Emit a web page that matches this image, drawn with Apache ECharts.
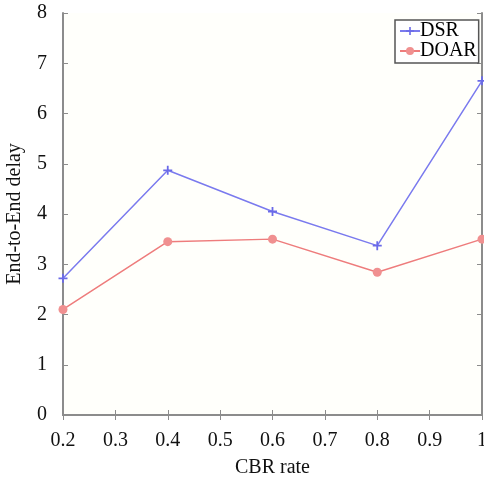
<!DOCTYPE html>
<html><head><meta charset="utf-8">
<script src="https://cdn.jsdelivr.net/npm/echarts@6/dist/echarts.min.js"></script>
<style>html,body{margin:0;padding:0;background:#fff}#c{width:484px;height:483px}</style>
</head><body><div id="c"></div>
<script>
const cbrRates = [0.2, 0.4, 0.6, 0.8, 1.0];
const dsrDelay = [2.72, 4.87, 4.05, 3.37, 6.65];
const doarDelay = [2.1, 3.45, 3.5, 2.84, 3.5];
const seriesNames = ['DSR', 'DOAR'];
const xTitle = 'CBR rate';
const yTitle = 'End-to-End delay';

const font = '"Liberation Serif", "Times New Roman", serif';
const axisCol = '#8c8c8c';
const plusPath = 'path://M4,0 L6,0 L6,4 L10,4 L10,6 L6,6 L6,10 L4,10 L4,6 L0,6 L0,4 L4,4 Z';
const chart = echarts.init(document.getElementById('c'), null, {renderer: 'canvas'});
const lbl = {fontFamily: font, fontSize: 20, color: '#111'};
chart.setOption({
  backgroundColor: '#fff',
  animation: false,
  grid: {left: 63, right: 2, top: 13, bottom: 68, containLabel: false, outerBoundsMode: 'none', show: true, backgroundColor: '#fffffb', borderWidth: 0},
  legend: {
    left: 395, top: 20, orient: 'vertical', itemGap: 0, itemWidth: 20, itemHeight: 10,
    padding: [1, 2, 2, 4],
    borderColor: '#555', borderWidth: 1.5, backgroundColor: '#fff',
    textStyle: {fontFamily: font, fontSize: 20, color: '#000', padding: [0, 0, 0, -5]},
    data: seriesNames
  },
  xAxis: [{
    type: 'value', min: 0.2, max: 1, interval: 0.1,
    name: xTitle, nameLocation: 'middle', nameGap: 43,
    nameTextStyle: {fontFamily: font, fontSize: 20, color: '#111'},
    axisLine: {show: true, onZero: false, lineStyle: {color: axisCol, width: 2}},
    axisTick: {show: true, inside: true, length: 5, lineStyle: {color: axisCol}},
    axisLabel: Object.assign({margin: 16, formatter: v => String(+v.toFixed(1))}, lbl),
    splitLine: {show: false}
  }, {
    type: 'value', position: 'top', min: 0.2, max: 1, interval: 0.1,
    axisLine: {show: true, lineStyle: {color: axisCol, width: 2}},
    axisTick: {show: true, inside: true, length: 5, lineStyle: {color: axisCol}},
    axisLabel: {show: false}, splitLine: {show: false}
  }],
  yAxis: [{
    type: 'value', min: 0, max: 8, interval: 1,
    name: yTitle, nameLocation: 'middle', nameGap: 38, nameRotate: 90,
    nameTextStyle: {fontFamily: font, fontSize: 20, color: '#111'},
    axisLine: {show: true, onZero: false, lineStyle: {color: axisCol, width: 2}},
    axisTick: {show: true, inside: true, length: 5, lineStyle: {color: axisCol}},
    axisLabel: Object.assign({margin: 16, padding: [7, 0, 0, 0]}, lbl),
    splitLine: {show: false}
  }, {
    type: 'value', position: 'right', min: 0, max: 8, interval: 1,
    axisLine: {show: true, lineStyle: {color: axisCol, width: 2}},
    axisTick: {show: true, inside: true, length: 5, lineStyle: {color: axisCol}},
    axisLabel: {show: false}, splitLine: {show: false}
  }],
  series: [{
    name: seriesNames[0], type: 'line',
    data: cbrRates.map((x, i) => [x, dsrDelay[i]]),
    symbol: plusPath, symbolSize: 9, showAllSymbol: true,
    lineStyle: {color: '#7a7aee', width: 1.5},
    itemStyle: {color: '#6a6ae8'}
  }, {
    name: seriesNames[1], type: 'line',
    data: cbrRates.map((x, i) => [x, doarDelay[i]]),
    symbol: 'circle', symbolSize: 9, showAllSymbol: true,
    lineStyle: {color: '#ee7c7c', width: 1.5},
    itemStyle: {color: '#f09090'}
  }]
});
</script></body></html>
